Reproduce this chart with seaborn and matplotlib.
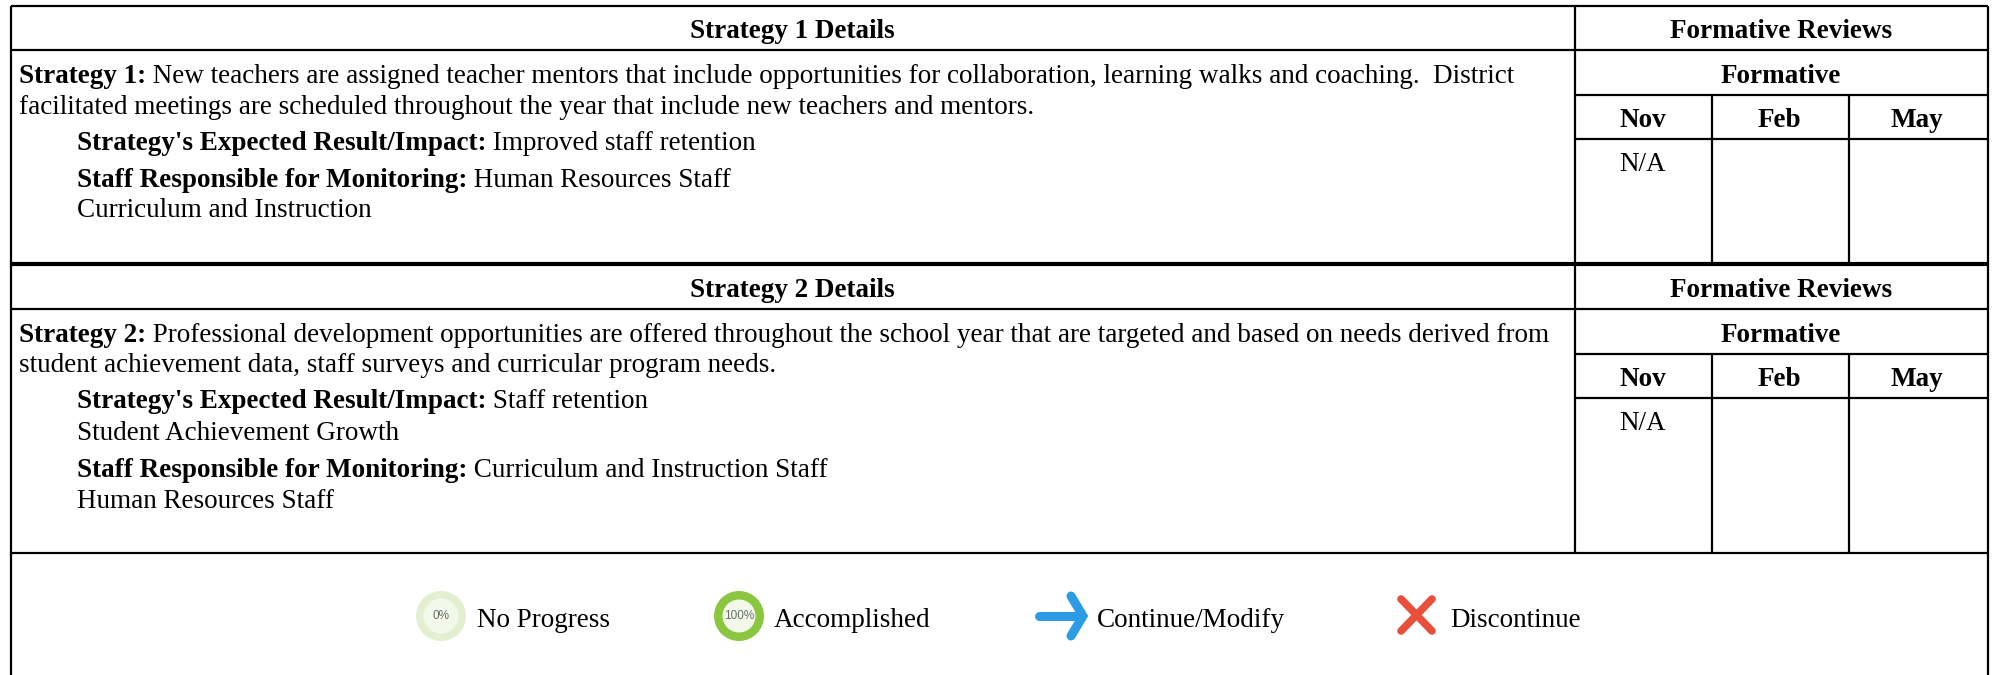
import matplotlib
matplotlib.use("Agg")
import matplotlib.pyplot as plt
from matplotlib.patches import Circle
import seaborn as sns

# --- contenu du tableau ---
strategy_titles = ["Strategy 1 Details", "Strategy 2 Details"]
review_title = "Formative Reviews"
sub_title = "Formative"
months = ["Nov", "Feb", "May"]
first_review = "N/A"

s1_label = "Strategy 1:"
s1_lines = [" New teachers are assigned teacher mentors that include opportunities for collaboration, learning walks and coaching.  District",
            "facilitated meetings are scheduled throughout the year that include new teachers and mentors."]
s1_result = "Improved staff retention"
s1_staff = ["Human Resources Staff", "Curriculum and Instruction"]

s2_label = "Strategy 2:"
s2_lines = [" Professional development opportunities are offered throughout the school year that are targeted and based on needs derived from",
            "student achievement data, staff surveys and curricular program needs."]
s2_result = ["Staff retention", "Student Achievement Growth"]
s2_staff = ["Curriculum and Instruction Staff", "Human Resources Staff"]

result_label = "Strategy's Expected Result/Impact:"
staff_label = "Staff Responsible for Monitoring:"
legend_labels = ["No Progress", "Accomplished", "Continue/Modify", "Discontinue"]

sns.set_theme(style="white")
plt.rcParams["font.family"] = ["Liberation Serif"]

fig = plt.figure(figsize=(19.93, 6.75), dpi=100)
ax = fig.add_axes([0, 0, 1, 1])
ax.set_xlim(0, 1993)
ax.set_ylim(675, 0)
ax.axis("off")

FS = 19.5
LW = 1.6


def hline(y, x0=11, x1=1988, lw=LW):
    ax.plot([x0, x1], [y, y], color="black", lw=lw, solid_capstyle="butt")


def vline(x, y0, y1, lw=LW):
    ax.plot([x, x], [y0, y1], color="black", lw=lw, solid_capstyle="butt")


def put(x, y, s, bold=False, ha="left"):
    return ax.text(x, y, s, fontsize=FS, color="black", va="baseline", ha=ha,
                   fontweight="bold" if bold else "normal")


def pair(x, y, label, rest):
    # libellé en gras puis texte normal juste derrière
    t = put(x, y, label, bold=True)
    box = t.get_window_extent(fig.canvas.get_renderer())
    x_end = ax.transData.inverted().transform((box.x1, box.y0))[0]
    put(x_end, y, rest)


# --- grille ---
for y in [6, 50, 308.5, 553]:
    hline(y)
hline(263.7, lw=3.0)  # filet double entre les deux blocs
for y in [95, 139, 354, 398]:
    hline(y, x0=1575)
vline(11, 6, 675)
vline(1988, 6, 675)
for top, bottom in [(6, 262), (265, 553)]:
    vline(1575, top, bottom)
for top, bottom in [(95, 262), (354, 553)]:
    vline(1712, top, bottom)
    vline(1849, top, bottom)

# --- blocs ---
for i, y0 in enumerate([38, 297]):
    put(792, y0, strategy_titles[i], bold=True, ha="center")
    put(1781, y0, review_title, bold=True, ha="center")
    put(1781, y0 + 45, sub_title, bold=True, ha="center")
    for x, m in zip([1643, 1779, 1917], months):
        put(x, y0 + 89, m, bold=True, ha="center")
    put(1643, y0 + 133, first_review, ha="center")

pair(19, 83, s1_label, s1_lines[0])
put(19, 114, s1_lines[1])
pair(77, 150, result_label, " " + s1_result)
pair(77, 187, staff_label, " " + s1_staff[0])
put(77, 217, s1_staff[1])

pair(19, 342, s2_label, s2_lines[0])
put(19, 372, s2_lines[1])
pair(77, 408, result_label, " " + s2_result[0])
put(77, 440, s2_result[1])
pair(77, 477, staff_label, " " + s2_staff[0])
put(77, 508, s2_staff[1])

# --- légende ---
ly = 616
ax.add_patch(Circle((441, ly), 25, fc="#e3efd0", ec="none"))
ax.add_patch(Circle((441, ly), 17.5, fc="#f2f8ea", ec="none"))
ax.text(441, ly, "0%", fontsize=8.5, color="#666f66", ha="center", va="center",
        family="Liberation Sans")
ax.add_patch(Circle((739, ly), 25, fc="#8cc63f", ec="none"))
ax.add_patch(Circle((739, ly), 16.5, fc="#f2f8ea", ec="none"))
ax.text(739, ly, "100%", fontsize=8.5, color="#666f66", ha="center", va="center",
        family="Liberation Sans")

blue = "#2b9be6"
ax.plot([1039, 1080], [616, 616], color=blue, lw=6.5, solid_capstyle="round")
ax.plot([1071, 1083, 1071], [596, 616, 636], color=blue, lw=6.5,
        solid_capstyle="round", solid_joinstyle="miter")

red = "#e9503c"
ax.plot([1401, 1432], [599, 631], color=red, lw=5.5, solid_capstyle="round")
ax.plot([1401, 1432], [631, 599], color=red, lw=5.5, solid_capstyle="round")

for x, s in zip([477, 774, 1097, 1450], legend_labels):
    put(x, 627, s)

fig.savefig("out.png", dpi=100, facecolor="white")
